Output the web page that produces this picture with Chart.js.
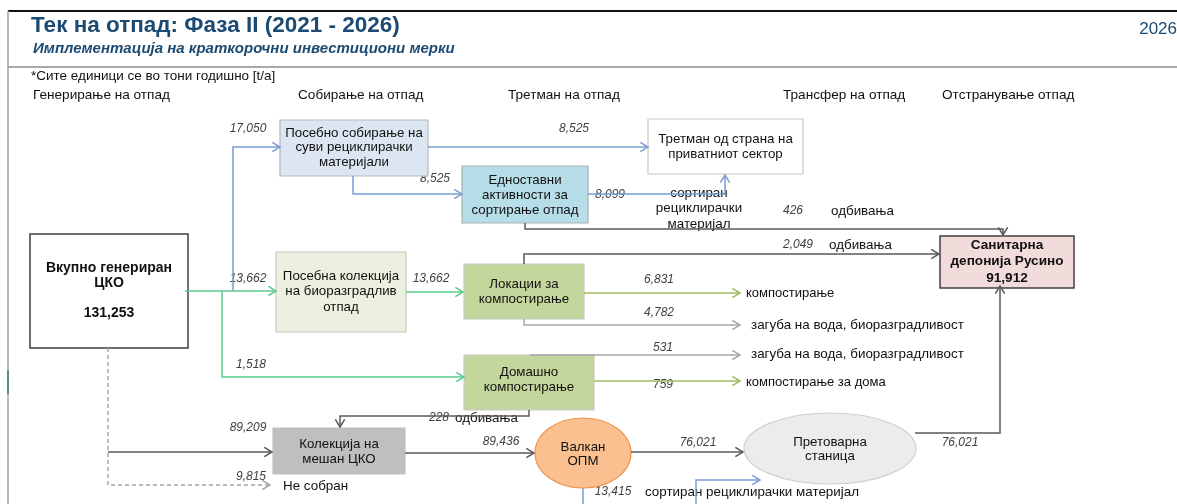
<!DOCTYPE html>
<html>
<head>
<meta charset="utf-8">
<script src="https://cdn.jsdelivr.net/npm/chart.js@4.4.1/dist/chart.umd.min.js"></script>
<style>
  html, body { margin: 0; padding: 0; background: #fff; }
  canvas { display: block; }
</style>
</head>
<body>
<canvas id="flowChart" width="1177" height="504"></canvas>
<script>
// --- data ---
const chartTitle = 'Тек на отпад: Фаза II (2021 - 2026)';
const chartSubtitle = 'Имплементација на краткорочни инвестициони мерки';
const chartYear = '2026';
const unitNote = '*Сите единици се во тони годишно [t/a]';
const columnHeaders = ['Генерирање на отпад', 'Собирање на отпад', 'Третман на отпад', 'Трансфер на отпад', 'Отстранување отпад'];

const totalGenerated = 131253;
const landfillTotal = 91912;

const nodeNames = [
    ['Вкупно генериран', 'ЦКО'],
    ['Посебно собирање на', 'суви рециклирачки', 'материјали'],
    ['Третман од страна на', 'приватниот сектор'],
    ['Едноставни', 'активности за', 'сортирање отпад'],
    ['Посебна колекција', 'на биоразградлив', 'отпад'],
    ['Локации за', 'компостирање'],
    ['Санитарна', 'депонија Русино'],
    ['Домашно', 'компостирање'],
    ['Колекција на', 'мешан ЦКО'],
    ['Валкан', 'ОПМ'],
    ['Претоварна', 'станица']
];

const flowValues = [17050, 13662, 1518, 8525, 8525, 8099, 426, 2049, 13662, 6831, 4782, 531, 759, 228, 89209, 9815, 89436, 76021, 76021, 13415];
const flowNotes = ['', '', '', '', '', 'сортиран\nрециклирачки\nматеријал', 'одбивања', 'одбивања', '',
    'компостирање', 'загуба на вода, биоразградливост', 'загуба на вода, биоразградливост',
    'компостирање за дома', 'одбивања', '', 'Не собран', '', '', '', 'сортиран рециклирачки материјал'];

// --- layout (positions and styles) ---
const BLUE = '#7b9fd3';
const GREEN = '#5dcc8c';
const OLIVE = '#9fbc63';
const DARK = '#595959';
const GREY = '#a6a6a6';
const TITLE_BLUE = '#1b4a72';

const nodeLayout = [
    { shape: 'rect', box: [30, 234, 188, 348], fill: '#ffffff', stroke: '#404040', bold: true, size: 14, cy: 290.5, lh: 15, extra: ['', totalGenerated] },
    { shape: 'rect', box: [280, 120, 428, 176], fill: '#dce6f2', stroke: '#b4b9c2', cy: 147.5, lh: 14.5 },
    { shape: 'rect', box: [648, 119, 803, 174], fill: '#ffffff', stroke: '#c8c8c8', cy: 146.5, lh: 15 },
    { shape: 'rect', box: [462, 166, 588, 223], fill: '#b7dee8', stroke: '#a8b0b4', cy: 195, lh: 15 },
    { shape: 'rect', box: [276, 252, 406, 332], fill: '#ebf1de', stroke: '#c8c8c8', cy: 291.5, lh: 15.5 },
    { shape: 'rect', box: [464, 264, 584, 319], fill: '#c3d69b', stroke: '#c8c8c8', cy: 291.5, lh: 15 },
    { shape: 'rect', box: [940, 236, 1074, 288], fill: '#f2dcdb', stroke: '#404040', bold: true, size: 13.6, cy: 261.5, lh: 16.5, extra: [landfillTotal] },
    { shape: 'rect', box: [464, 355, 594, 410], fill: '#c3d69b', stroke: '#c8c8c8', cy: 379.5, lh: 15 },
    { shape: 'rect', box: [273, 428, 405, 474], fill: '#bfbfbf', stroke: '#bfbfbf', cy: 451.5, lh: 15 },
    { shape: 'ellipse', box: [535, 418, 631, 488], fill: '#fac090', stroke: '#f0944a', cy: 454, lh: 14 },
    { shape: 'ellipse', box: [744, 413, 916, 484], fill: '#ececec', stroke: '#d0d0d0', cy: 449, lh: 14 }
];

const flowLayout = [
    { path: [[233, 291], [233, 147], [280, 147]], color: BLUE, lab: [248, 129] },
    { path: [[185, 291], [276, 291]], color: GREEN, lab: [248, 279] },
    { path: [[222, 291], [222, 377], [464, 377]], color: GREEN, lab: [251, 365] },
    { path: [[428, 147], [648, 147]], color: BLUE, lab: [574, 129] },
    { path: [[353, 176], [353, 194], [462, 194]], color: BLUE, lab: [435, 179] },
    { path: [[588, 194], [725, 194], [725, 175]], color: BLUE, lab: [610, 195], note: [699, 193], noteAlign: 'center', noteLh: 15.5 },
    { path: [[525, 223], [525, 229], [1003, 229], [1003, 235]], color: DARK, lab: [793, 211], note: [831, 211] },
    { path: [[524, 264], [524, 254], [939, 254]], color: DARK, lab: [798, 245], note: [829, 245] },
    { path: [[406, 292], [463, 292]], color: GREEN, lab: [431, 279] },
    { path: [[584, 293], [740, 293]], color: OLIVE, lab: [659, 280], note: [746, 293], noteSize: 13 },
    { path: [[524, 319], [524, 325], [740, 325]], color: GREY, lab: [659, 313], note: [751, 325] },
    { path: [[530, 355], [740, 355]], color: GREY, lab: [663, 348], note: [751, 354] },
    { path: [[594, 381], [740, 381]], color: OLIVE, lab: [663, 385], note: [746, 382], noteSize: 13 },
    { path: [[529, 410], [529, 416], [340, 416], [340, 427]], color: DARK, lab: [439, 418], note: [455, 418] },
    { path: [[108, 452], [272, 452]], color: DARK, lab: [248, 428] },
    { path: [[108, 348], [108, 485], [270, 485]], color: GREY, dash: [4, 3], lab: [251, 477], note: [283, 486] },
    { path: [[405, 453], [534, 453]], color: DARK, lab: [501, 442] },
    { path: [[631, 452], [743, 452]], color: DARK, lab: [698, 443] },
    { path: [[915, 433], [1000, 433], [1000, 286]], color: DARK, lab: [960, 443] },
    { path: [[696, 504], [696, 480], [760, 480]], color: BLUE, lab: [613, 492], note: [645, 492] }
];

// plain connector without arrow (Валкан ОПМ down to sorting)
const extraLines = [
    { path: [[583, 488], [583, 504]], color: BLUE }
];

const FONT = '"Liberation Sans", Arial, sans-serif';

function fmt(v) {
    return typeof v === 'number' ? v.toLocaleString('en-US') : v;
}

function toPoints(path) {
    return path.map(p => ({ x: p[0], y: p[1] }));
}

const datasets = [];
flowLayout.concat(extraLines).forEach(function (f) {
    datasets.push({
        data: toPoints(f.path),
        showLine: true,
        borderColor: f.color,
        borderWidth: 1.5,
        borderDash: f.dash || [],
        pointRadius: 0,
        fill: false
    });
});

function drawText(ctx, text, x, y, font, color, align) {
    ctx.font = font;
    ctx.fillStyle = color;
    ctx.textAlign = align || 'left';
    ctx.textBaseline = 'middle';
    ctx.fillText(text, x, y);
}

const diagramPlugin = {
    id: 'diagram',
    beforeDatasetsDraw(chart) {
        const ctx = chart.ctx;
        const sx = v => chart.scales.x.getPixelForValue(v);
        const sy = v => chart.scales.y.getPixelForValue(v);
        ctx.save();

        // frame lines
        ctx.strokeStyle = '#111';
        ctx.lineWidth = 2;
        ctx.beginPath(); ctx.moveTo(sx(8), sy(11)); ctx.lineTo(sx(1177), sy(11)); ctx.stroke();
        ctx.strokeStyle = '#8c8c8c';
        ctx.lineWidth = 1.5;
        ctx.beginPath(); ctx.moveTo(sx(8), sy(67)); ctx.lineTo(sx(1177), sy(67)); ctx.stroke();
        ctx.strokeStyle = '#a0a0a0';
        ctx.beginPath(); ctx.moveTo(sx(8), sy(11)); ctx.lineTo(sx(8), sy(504)); ctx.stroke();
        ctx.strokeStyle = '#2e8b57';
        ctx.beginPath(); ctx.moveTo(sx(8), sy(370)); ctx.lineTo(sx(8), sy(394)); ctx.stroke();

        // titles
        drawText(ctx, chartTitle, sx(31), sy(26), 'bold 22.5px ' + FONT, TITLE_BLUE);
        drawText(ctx, chartSubtitle, sx(33), sy(49), 'italic bold 15px ' + FONT, TITLE_BLUE);
        drawText(ctx, chartYear, sx(1177), sy(29), '17px ' + FONT, TITLE_BLUE, 'right');
        drawText(ctx, unitNote, sx(31), sy(76), '13.5px ' + FONT, '#111');
        const headerX = [33, 298, 508, 783, 942];
        columnHeaders.forEach((h, i) => drawText(ctx, h, sx(headerX[i]), sy(95), '13.6px ' + FONT, '#111'));

        // flow value labels and notes
        flowLayout.forEach(function (f, i) {
            drawText(ctx, fmt(flowValues[i]), sx(f.lab[0]), sy(f.lab[1]), 'italic 12px ' + FONT, '#404040', 'center');
            if (f.note && flowNotes[i]) {
                const lines = flowNotes[i].split('\n');
                const lh = f.noteLh || 15;
                lines.forEach((t, k) => drawText(ctx, t, sx(f.note[0]), sy(f.note[1] + k * lh),
                    (f.noteSize || 13.4) + 'px ' + FONT, '#111', f.noteAlign || 'left'));
            }
        });

        // nodes
        nodeLayout.forEach(function (n, i) {
            const x0 = sx(n.box[0]), y0 = sy(n.box[1]), x1 = sx(n.box[2]), y1 = sy(n.box[3]);
            ctx.fillStyle = n.fill;
            ctx.strokeStyle = n.stroke;
            ctx.lineWidth = n.bold ? 1.5 : 1.2;
            ctx.beginPath();
            if (n.shape === 'ellipse') {
                ctx.ellipse((x0 + x1) / 2, (y0 + y1) / 2, (x1 - x0) / 2, (y1 - y0) / 2, 0, 0, Math.PI * 2);
            } else {
                ctx.rect(x0, y0, x1 - x0, y1 - y0);
            }
            ctx.fill();
            ctx.stroke();
            const lines = nodeNames[i].concat((n.extra || []).map(fmt));
            const cx = (x0 + x1) / 2;
            const top = n.cy - (lines.length - 1) * n.lh / 2;
            lines.forEach((t, k) => drawText(ctx, t, cx, sy(top + k * n.lh),
                (n.bold ? 'bold ' : '') + (n.size || 13.3) + 'px ' + FONT, '#111', 'center'));
        });
        ctx.restore();
    },
    afterDatasetsDraw(chart) {
        const ctx = chart.ctx;
        const sx = v => chart.scales.x.getPixelForValue(v);
        const sy = v => chart.scales.y.getPixelForValue(v);
        ctx.save();
        flowLayout.forEach(function (f) {
            const n = f.path.length;
            const ax = sx(f.path[n - 1][0]), ay = sy(f.path[n - 1][1]);
            const bx = sx(f.path[n - 2][0]), by = sy(f.path[n - 2][1]);
            const ang = Math.atan2(ay - by, ax - bx);
            const len = 9, spread = 0.55;
            ctx.strokeStyle = f.color;
            ctx.lineWidth = 1.5;
            ctx.setLineDash([]);
            ctx.beginPath();
            ctx.moveTo(ax - len * Math.cos(ang - spread), ay - len * Math.sin(ang - spread));
            ctx.lineTo(ax, ay);
            ctx.lineTo(ax - len * Math.cos(ang + spread), ay - len * Math.sin(ang + spread));
            ctx.stroke();
        });
        ctx.restore();
    }
};

const flowChart = new Chart(document.getElementById('flowChart').getContext('2d'), {
    type: 'scatter',
    data: { datasets: datasets },
    options: {
        responsive: false,
        animation: false,
        events: [],
        layout: { padding: 0, autoPadding: false },
        plugins: { legend: { display: false }, tooltip: { enabled: false }, title: { display: false } },
        scales: {
            x: { type: 'linear', min: 0, max: 1177, display: false },
            y: { type: 'linear', min: 0, max: 504, reverse: true, display: false }
        }
    },
    plugins: [diagramPlugin]
});
</script>
</body>
</html>
